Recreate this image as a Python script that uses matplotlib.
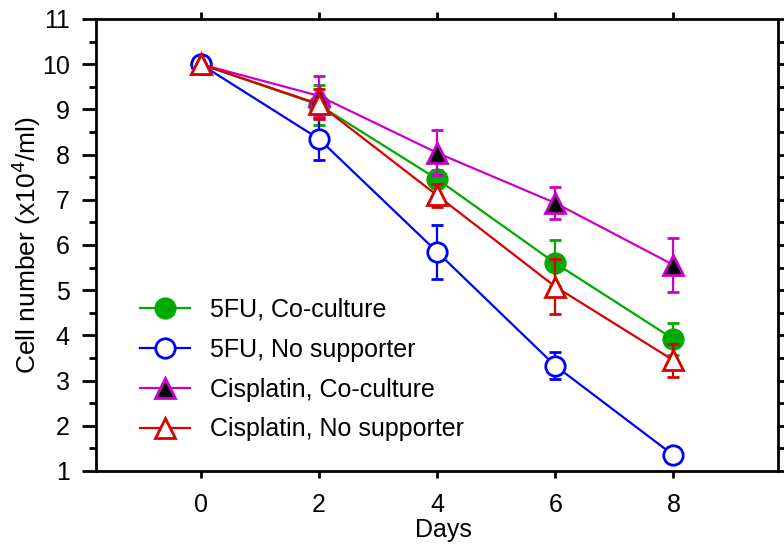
import matplotlib
matplotlib.use("Agg")
import matplotlib.pyplot as plt
from matplotlib.ticker import MultipleLocator

plt.rcParams['font.family'] = ['Liberation Sans', 'DejaVu Sans']

days = [0, 2, 4, 6, 8]

fu_co = [10.0, 9.10, 7.46, 5.60, 3.92]
fu_co_err = [0.0, 0.44, 0.20, 0.50, 0.36]

fu_none = [10.0, 8.35, 5.85, 3.33, 1.35]
fu_none_err = [0.0, 0.47, 0.60, 0.30, 0.0]

cis_co = [10.0, 9.30, 8.04, 6.93, 5.56]
cis_co_err = [0.0, 0.45, 0.50, 0.35, 0.60]

cis_none = [10.0, 9.12, 7.10, 5.08, 3.45]
cis_none_err = [0.0, 0.33, 0.26, 0.60, 0.36]

labels = ["5FU, Co-culture", "5FU, No supporter",
          "Cisplatin, Co-culture", "Cisplatin, No supporter"]

FS = 18

fig = plt.figure(figsize=(7.84, 5.44), dpi=100)
ax = fig.add_axes([96/784, 1-471/544, (778-96)/784, (471-19)/544])

series = [
    (fu_co, fu_co_err, '#00AA00', 'o', '#00AA00', '#00AA00'),
    (fu_none, fu_none_err, '#0000FF', 'o', 'white', '#0000FF'),
    (cis_co, cis_co_err, '#CC00CC', '^', 'black', '#CC00CC'),
    (cis_none, cis_none_err, '#DD0000', '^', 'white', '#DD0000'),
]

handles = []
for i, ((vals, errs, col, mk, fc, ec), lab) in enumerate(zip(series, labels)):
    cont = ax.errorbar(days, vals, yerr=errs, color=col, lw=1.6, marker=mk,
                       markersize=14, markerfacecolor=fc, markeredgecolor=ec,
                       markeredgewidth=2, ecolor=col, elinewidth=1.6,
                       capsize=4, capthick=1.6, label=lab, zorder=3 + i)
    handles.append(cont[0])

ax.set_xlim(-1.77, 9.77)
ax.set_ylim(1, 11)
ax.set_xticks(days)
ax.yaxis.set_major_locator(MultipleLocator(1))
ax.yaxis.set_minor_locator(MultipleLocator(0.5))

for s in ax.spines.values():
    s.set_linewidth(2)

ax.tick_params(axis='x', which='major', direction='out', length=5, width=2,
               top=True, labelsize=FS, pad=11)
ax.tick_params(axis='y', which='major', direction='out', length=10, width=2,
               right=True, labelsize=FS, pad=9)
ax.tick_params(axis='y', which='minor', direction='out', length=5, width=2,
               right=True)

ax.set_xlabel("Days", fontsize=FS, labelpad=2)
ax.xaxis.set_label_coords((443 - 96) / 682, -0.105, transform=ax.transAxes)
ax.xaxis.label.set_va('top')
ax.set_ylabel("Cell number (x10$^4$/ml)", fontsize=19)
ax.yaxis.set_label_coords(-(96 - 26) / 682, 0.5, transform=ax.transAxes)
ax.yaxis.label.set_va('center')

leg = ax.legend(handles, labels, loc='upper left',
                bbox_to_anchor=(140/784, 1-298/544),
                bbox_transform=fig.transFigure, frameon=False, fontsize=FS,
                handlelength=2.0, handletextpad=0.79, labelspacing=0.63,
                borderpad=0, borderaxespad=0, numpoints=1)

fig.savefig("out.png", dpi=100)
